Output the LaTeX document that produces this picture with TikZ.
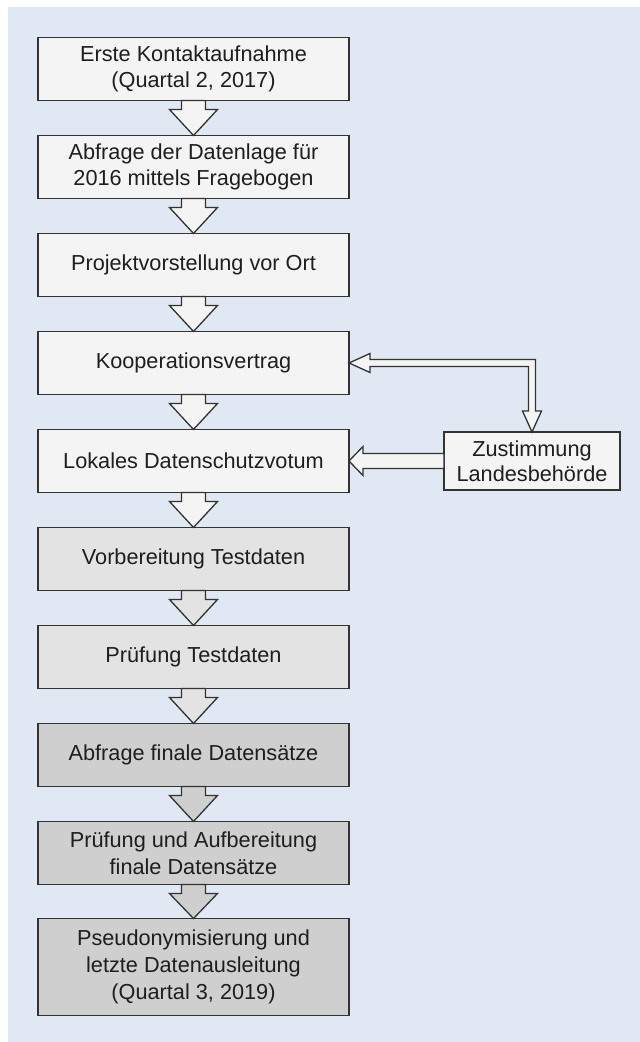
\documentclass[tikz,border=0pt]{standalone}
\usepackage{fontspec}
\setmainfont{Liberation Sans}
\usepackage{xcolor}
\usetikzlibrary{positioning,calc}
\definecolor{paleblue}{HTML}{DFE8F3}
\definecolor{boxlight}{HTML}{F4F4F4}
\definecolor{boxmid}{HTML}{E3E3E3}
\definecolor{boxdark}{HTML}{CFCFCF}
\definecolor{edgegray}{HTML}{333333}
\definecolor{textgray}{HTML}{1E1E1E}

\begin{document}
\begin{tikzpicture}[x=1pt, y=1pt,
        stepbox/.style={draw=edgegray, line width=1.3pt, text=textgray, minimum width=311pt, minimum height=63pt,
            inner sep=0pt, outer sep=0pt, align=center, font=\fontsize{21.7}{26.7}\selectfont},
        blockarrow/.style={draw=edgegray, line width=1.3pt, line join=miter}]
    \useasboundingbox (0,0) rectangle (640,1042);
    \fill[paleblue] (8,0) rectangle (640,1035);

    \node[stepbox, fill=boxlight] (kontakt) at (193.5,973) {Erste Kontaktaufnahme\\(Quartal 2, 2017)};
    \node[stepbox, fill=boxlight, below=35pt of kontakt] (abfrage) {Abfrage der Datenlage für\\2016 mittels Fragebogen};
    \node[stepbox, fill=boxlight, below=35pt of abfrage] (vorstellung) {Projektvorstellung vor Ort};
    \node[stepbox, fill=boxlight, below=35pt of vorstellung] (vertrag) {Kooperationsvertrag};
    \node[stepbox, fill=boxlight, below=35pt of vertrag] (votum) {Lokales Datenschutzvotum};
    \node[stepbox, fill=boxmid, below=35pt of votum] (testvorb) {Vorbereitung Testdaten};
    \node[stepbox, fill=boxmid, below=35pt of testvorb] (testpruef) {Prüfung Testdaten};
    \node[stepbox, fill=boxdark, below=35pt of testpruef] (finalabfrage) {Abfrage finale Datensätze};
    \node[stepbox, fill=boxdark, below=35pt of finalabfrage] (finalpruef) {Prüfung und Aufbereitung\\finale Datensätze};
    \node[stepbox, fill=boxdark, minimum height=97pt, below=34pt of finalpruef] (pseudo)
        {Pseudonymisierung und\\letzte Datenausleitung\\(Quartal 3, 2019)};

    \node[stepbox, fill=boxlight, minimum width=176pt, minimum height=58pt, right=95pt of votum,
        font=\fontsize{21.7}{25}\selectfont] (landes) {Zustimmung\\Landesbehörde};

    % Blockpfeile zwischen den Schritten
    \foreach \von/\nach/\farbe in {kontakt/abfrage/boxlight, abfrage/vorstellung/boxlight,
            vorstellung/vertrag/boxlight, vertrag/votum/boxlight, votum/testvorb/boxlight,
            testvorb/testpruef/boxmid, testpruef/finalabfrage/boxmid,
            finalabfrage/finalpruef/boxdark, finalpruef/pseudo/boxdark}
        \draw[blockarrow, fill=\farbe] ([xshift=-12pt]\von.south) -- ++(0,-9) -- ++(-12,0) -- (\nach.north)
            -- ([xshift=24pt,yshift=-9pt]\von.south) -- ++(-12,0) -- ([xshift=12pt]\von.south) -- cycle;

    % Vertrag <-> Landesbehoerde
    \coordinate (knick) at (landes.north |- vertrag.east);
    \draw[blockarrow, fill=boxlight] (vertrag.east) -- ($(vertrag.east)+(21,9.5)$) -- ($(vertrag.east)+(21,3.5)$)
        -- ($(knick)+(3.5,3.5)$) -- ($(landes.north)+(3.5,21)$) -- ($(landes.north)+(9.5,21)$) -- (landes.north)
        -- ($(landes.north)+(-9.5,21)$) -- ($(landes.north)+(-3.5,21)$) -- ($(knick)+(-3.5,-3.5)$)
        -- ($(vertrag.east)+(21,-3.5)$) -- ($(vertrag.east)+(21,-9.5)$) -- cycle;

    % Landesbehoerde -> Votum
    \draw[blockarrow, fill=boxlight] (votum.east) -- ($(votum.east)+(14,14.5)$) -- ($(votum.east)+(14,7.5)$)
        -- ($(landes.west)+(0,7.5)$) -- ($(landes.west)+(0,-7.5)$) -- ($(votum.east)+(14,-7.5)$)
        -- ($(votum.east)+(14,-14.5)$) -- cycle;
\end{tikzpicture}
\end{document}
